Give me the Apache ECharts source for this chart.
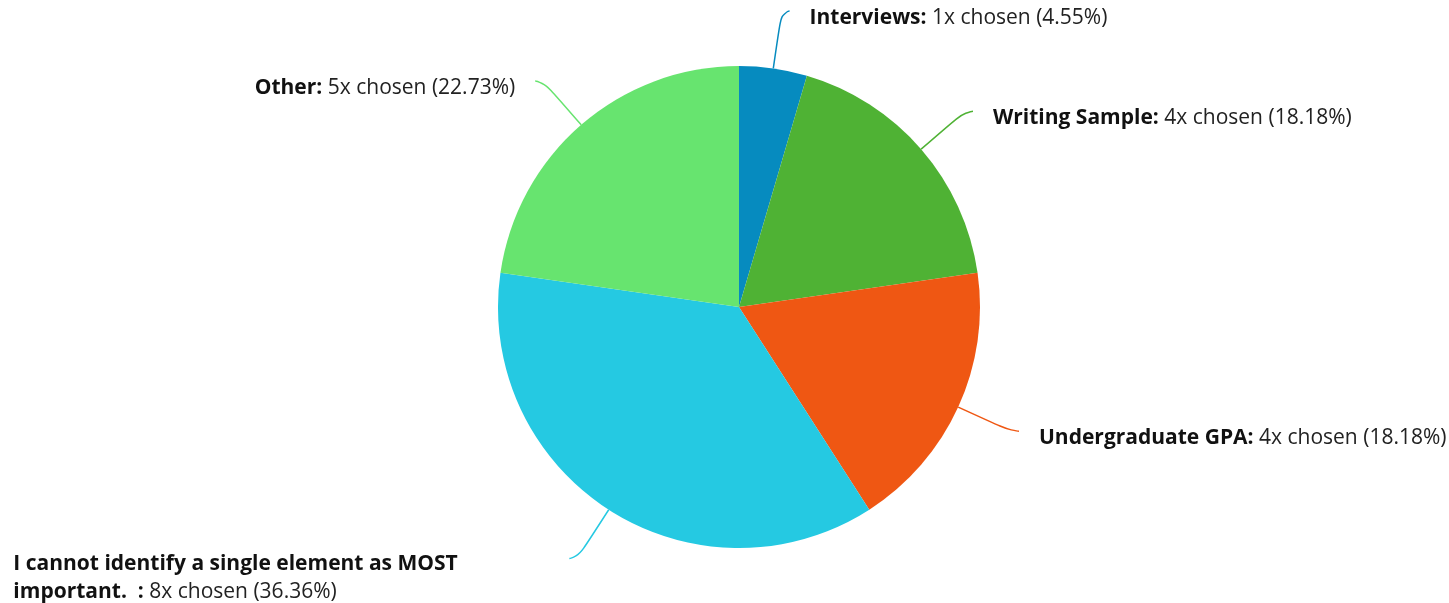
<!DOCTYPE html>
<html>
<head>
<meta charset="utf-8">
<title>Most important element</title>
<script src="https://cdn.jsdelivr.net/npm/echarts@6/dist/echarts.min.js"></script>
<style>
  html, body { margin: 0; padding: 0; background: #ffffff; }
  #chart { width: 1449px; height: 603px; }
</style>
</head>
<body>
<div id="chart"></div>
<script>
// Answer options, clockwise from the top
const categories = [
  'Interviews',
  'Writing Sample',
  'Undergraduate GPA',
  'I cannot identify a single element as MOST important.  ',
  'Other'
];
// Times each option was chosen
const counts = [1, 4, 4, 8, 5];
// Percent shown in each label
const percents = ['4.55', '18.18', '18.18', '36.36', '22.73'];
const colors = ['#068bbf', '#4fb234', '#ef5713', '#25c9e2', '#67e46f'];

const chart = echarts.init(document.getElementById('chart'), null, { renderer: 'canvas' });

const FONT = '"Open Sans", "Noto Sans", sans-serif';
const FS = 21;

const data = categories.map((name, i) => {
  const item = {
    name: name,
    value: counts[i],
    pct: percents[i],
    itemStyle: { color: colors[i] },
    labelLine: { lineStyle: { color: colors[i] } }
  };
  if (i === 2) {
    // keep the long right-hand label on one line
    item.label = { width: 430 };
  }
  if (i === 3) {
    // long answer wraps onto two lines
    item.label = { width: 536, overflow: 'break', padding: [38, 0, 0, 0] };
  }
  return item;
});

chart.setOption({
  backgroundColor: '#ffffff',
  animation: false,
  series: [{
    type: 'pie',
    center: [739, 307],
    radius: 241,
    startAngle: 90,
    clockwise: true,
    avoidLabelOverlap: false,
    bleedMargin: 0,
    data: data,
    itemStyle: { borderWidth: 0 },
    label: {
      show: true,
      position: 'outside',
      distanceToLabelLine: 20,
      padding: [14, 0, 0, 0],
      fontFamily: FONT,
      fontSize: FS,
      color: '#222222',
      lineHeight: 28,
      formatter: p => '{b|' + p.name + ':}{n| ' + p.value + 'x chosen (' + p.data.pct + '%)}',
      rich: {
        b: { fontFamily: FONT, fontSize: FS, fontWeight: 'bold', color: '#111111', lineHeight: 28, align: 'left' },
        n: { fontFamily: FONT, fontSize: FS, color: '#222222', lineHeight: 28, align: 'left' }
      }
    },
    labelLine: {
      show: true,
      length: 58,
      length2: 8,
      smooth: 0.8,
      lineStyle: { width: 1.5 }
    },
    emphasis: { disabled: true }
  }]
});
</script>
</body>
</html>
